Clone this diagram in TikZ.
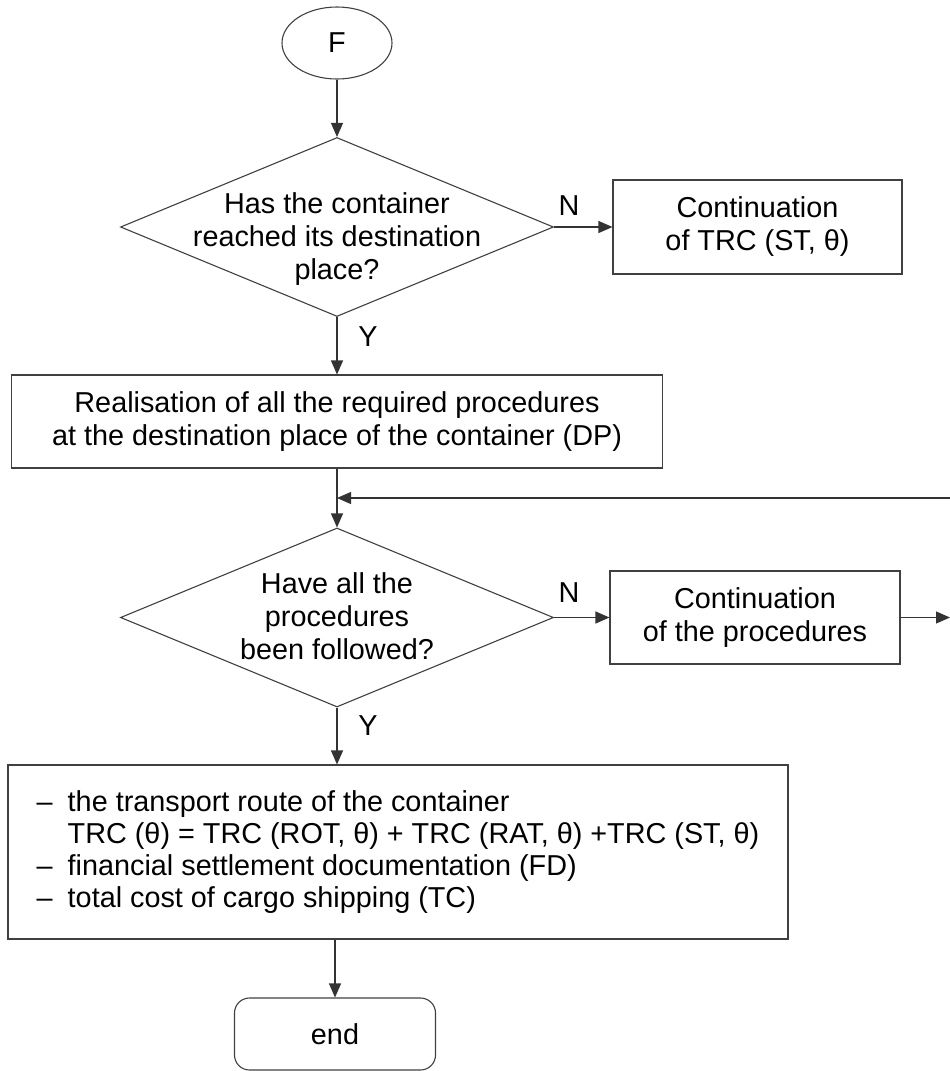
\documentclass[tikz,border=0pt]{standalone}
\usepackage{fontspec}
\setmainfont{Liberation Sans}
\usetikzlibrary{shapes.geometric,arrows.meta}
\begin{document}
\begin{tikzpicture}[x=1pt,y=-1pt,
  every node/.style={font=\fontsize{28.8}{33}\selectfont},
  ln/.style={draw=black!80, line width=1.1pt},
  arr/.style={ln, -{Triangle[length=14pt,width=12pt]}},
  procbox/.style={draw=black!75, line width=1.1pt, rectangle, inner sep=0pt, align=center},
  decision/.style={draw=black!75, line width=1.1pt, diamond, inner sep=0pt, minimum width=433pt, minimum height=179pt},
  txt/.style={align=center, inner sep=0pt},
  lbl/.style={inner sep=0pt}]
\useasboundingbox (0,0) rectangle (950,1071);

\node[draw=black!75, line width=1.1pt, ellipse, minimum width=110pt, minimum height=72pt, inner sep=0pt] (F) at (337,43) {F};

\node[decision] (d1) at (337,227) {};
\node[txt] (d1t) at (337,239) {Has the container\\reached its destination\\place?};
\node[procbox, minimum width=289pt, minimum height=94pt] (trc) at (757.5,227) {Continuation\\of TRC (ST, θ)};

\node[procbox, minimum width=651pt, minimum height=93pt] (real) at (337,421.5) {Realisation of all the required procedures\\at the destination place of the container (DP)};

\node[decision] (d2) at (337,617.5) {};
\node[txt] (d2t) at (337,616) {Have all the\\procedures\\been followed?};
\node[procbox, minimum width=290pt, minimum height=93pt] (proc) at (755,617.5) {Continuation\\of the procedures};

\node[procbox, minimum width=780pt, minimum height=174pt, align=left, font=\fontsize{28.8}{32}\selectfont] (big) at (398,852) {\makebox[31pt][l]{–}the transport route of the container\\
\hspace*{31pt}TRC (θ) = TRC (ROT, θ) + TRC (RAT, θ) +TRC (ST, θ)\\
\makebox[31pt][l]{–}financial settlement documentation (FD)\\
\makebox[31pt][l]{–}total cost of cargo shipping (TC)};

\node[procbox, rounded corners=15pt, minimum width=201pt, minimum height=72pt] (end) at (335,1034) {end};

\node[lbl] (n1) at (569,206) {N};
\node[lbl] (y1) at (368,337) {Y};
\node[lbl] (n2) at (569,593) {N};
\node[lbl] (y2) at (368,726) {Y};

\coordinate (fbin) at (950,498);
\coordinate (fbout) at (950,617.5);

\draw[arr] (F.south) -- (d1.north);
\draw[arr] (d1.east) -- (trc.west);
\draw[arr] (d1.south) -- (real.north);
\draw[arr] (real.south) -- (d2.north);
\draw[arr] (fbin) -- (fbin -| real.south);
\draw[arr] (d2.east) -- (proc.west);
\draw[arr] (proc.east) -- (fbout);
\draw[arr] (d2.south) -- (d2.south |- big.north);
\draw[arr] (end.north |- big.south) -- (end.north);
\end{tikzpicture}
\end{document}
